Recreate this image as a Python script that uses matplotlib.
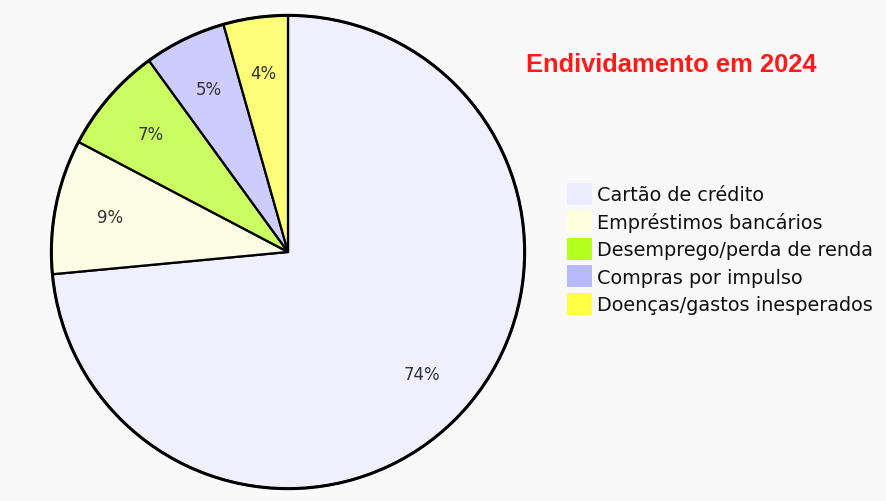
import matplotlib
import matplotlib.pyplot as plt
from matplotlib.patches import Patch
from matplotlib.colors import to_rgba

matplotlib.use('Agg')

# dados do gráfico (tamanho das fatias estimado pelos ângulos da imagem)
categorias = ['Cartão de crédito', 'Empréstimos bancários', 'Desemprego/perda de renda',
              'Compras por impulso', 'Doenças/gastos inesperados']
fatias = [73.5, 9.2, 7.3, 5.6, 4.4]
rotulos = ['74%', '9%', '7%', '5%', '4%']
titulo = 'Endividamento em 2024'

cores = ['#ECECFF', '#FFFFDE', '#B5FF20', '#B9B9FF', '#FFFF45']
fundo = '#f9f9f9'

W, H = 887, 502
fig = plt.figure(figsize=(W / 100, H / 100), dpi=100, facecolor=fundo)

# eixo quadrado para o disco: centro (288, 253) px, raio 239 px
cx, cy, r = 288, 253, 239
ax = fig.add_axes([(cx - r) / W, (H - cy - r) / H, 2 * r / W, 2 * r / H])
ax.set_facecolor(fundo)

faces = [to_rgba(c, 0.7) for c in cores]
wedges, textos = ax.pie(
    fatias, colors=faces, startangle=90, counterclock=False, radius=1,
    labels=rotulos, labeldistance=0.765,
    wedgeprops=dict(edgecolor='black', linewidth=1.6),
    textprops=dict(color='#333333', fontsize=12, family='DejaVu Sans',
                   ha='center', va='center'))
ax.add_patch(plt.Circle((0, 0), 1, fill=False, edgecolor='black', linewidth=2.2))
ax.set_xlim(-1.01, 1.01)
ax.set_ylim(-1.01, 1.01)
ax.axis('off')

# legenda
alcas = [Patch(facecolor=c, edgecolor='none') for c in cores]
leg = fig.legend(alcas, categorias, loc='upper left',
                 bbox_to_anchor=(567 / W, 1 - 184 / H),
                 frameon=False, fontsize=13.9, handlelength=1.3, handleheight=1.35,
                 handletextpad=0.25, labelspacing=0.3, borderpad=0, borderaxespad=0)
for t in leg.get_texts():
    t.set_color('#111111')

fig.text(671 / W, 1 - 65 / H, titulo, color='#ff1a1a', fontsize=18.4,
         fontweight='bold', family='Liberation Sans', ha='center', va='center')

fig.savefig('out.png', dpi=100, facecolor=fundo)
